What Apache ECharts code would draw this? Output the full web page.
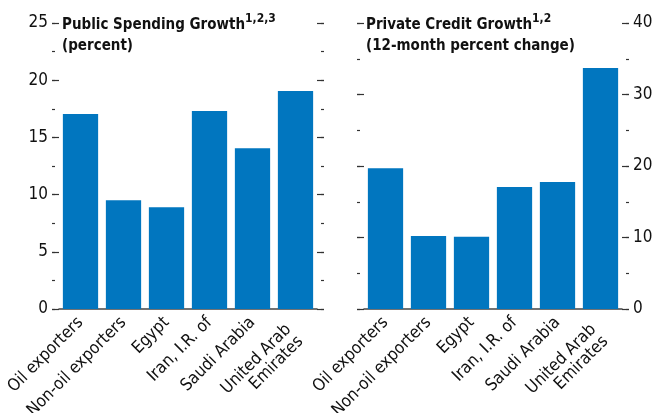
<!DOCTYPE html>
<html>
<head>
<meta charset="utf-8">
<script src="https://cdn.jsdelivr.net/npm/echarts@6/dist/echarts.min.js"></script>
<style>
  html, body { margin: 0; padding: 0; background: #fff; }
  #chart { width: 652px; height: 413px; }
</style>
</head>
<body>
<div id="chart"></div>
<script>
// data
const categories = [
  "Oil exporters",
  "Non-oil exporters",
  "Egypt",
  "Iran, I.R. of",
  "Saudi Arabia",
  "United Arab\nEmirates"
];
const publicSpending = [17.05, 9.5, 8.9, 17.3, 14.05, 19.05];
const privateCredit = [19.7, 10.2, 10.1, 17.05, 17.75, 33.7];
const leftTicks = [0, 5, 10, 15, 20, 25];
const rightTicks = [0, 10, 20, 30, 40];

const FONT = "'DejaVu Sans Condensed', sans-serif";
const barColor = "#0176bf";
const tickColor = "#333";

const chart = echarts.init(document.getElementById("chart"));

// major ticks sit on the grid edge, short minor ticks at the outer end
const yAxisPair = (gridIndex, position, ticks, showLabels) => [
  {
    type: "value",
    gridIndex: gridIndex,
    position: position,
    min: ticks[0],
    max: ticks[ticks.length - 1],
    interval: ticks[1] - ticks[0],
    splitLine: { show: false },
    axisLine: { show: false },
    axisTick: { show: true, inside: false, length: 7, lineStyle: { color: tickColor, width: 1.2 } },
    axisLabel: {
      show: showLabels,
      margin: 11,
      fontFamily: FONT,
      fontSize: 17,
      color: "#111"
    }
  },
  {
    type: "value",
    gridIndex: gridIndex,
    position: position,
    offset: 4,
    min: ticks[0],
    max: ticks[ticks.length - 1],
    interval: (ticks[1] - ticks[0]) / 2,
    splitLine: { show: false },
    axisLine: { show: false },
    axisTick: { show: true, inside: false, length: 3, lineStyle: { color: tickColor, width: 1.2 } },
    axisLabel: { show: false }
  }
];

// two-line label hangs below the spot of a one-line label
const catLabel = (v) => {
  if (v.indexOf("\n") < 0) return v;
  return "\n" + v.split("\n").map((s) => "{m|" + s + "}").join("\n");
};

const xAxisFor = (gridIndex) => ({
  type: "category",
  gridIndex: gridIndex,
  data: categories,
  axisTick: { show: false },
  axisLine: { show: true, lineStyle: { color: "#444", width: 1.5 } },
  axisLabel: {
    interval: 0,
    rotate: 45,
    margin: 11,
    fontFamily: FONT,
    fontSize: 17,
    lineHeight: 17,
    color: "#111",
    formatter: catLabel,
    rich: {
      m: { fontFamily: FONT, fontSize: 17, lineHeight: 17, color: "#111", padding: [0, 10, 0, 0] }
    }
  }
});

const titleRich = {
  t: { fontFamily: FONT, fontWeight: "bold", fontSize: 15, lineHeight: 24, color: "#111" },
  s: { fontFamily: FONT, fontWeight: "bold", fontSize: 12, lineHeight: 12, verticalAlign: "top", color: "#111" },
  u: { fontFamily: FONT, fontWeight: "bold", fontSize: 15, lineHeight: 18, color: "#111" }
};

const option = {
  animation: false,
  backgroundColor: "#fff",
  title: [
    {
      left: 62,
      top: 13,
      padding: 0,
      text: "{t|Public Spending Growth}{s|1,2,3}\n{u|(percent)}",
      textStyle: { rich: titleRich }
    },
    {
      left: 366,
      top: 13,
      padding: 0,
      text: "{t|Private Credit Growth}{s|1,2}\n{u|(12-month percent change)}",
      textStyle: { rich: titleRich }
    }
  ],
  grid: [
    { left: 59, right: 335, top: 23, bottom: 104, outerBoundsMode: "none" },
    { left: 364, right: 30, top: 23, bottom: 104, outerBoundsMode: "none" }
  ],
  xAxis: [xAxisFor(0), xAxisFor(1)],
  yAxis: [
    ...yAxisPair(0, "left", leftTicks, true),
    ...yAxisPair(0, "right", leftTicks, false),
    ...yAxisPair(1, "left", rightTicks, false),
    ...yAxisPair(1, "right", rightTicks, true)
  ],
  series: [
    {
      name: "Public Spending Growth",
      type: "bar",
      xAxisIndex: 0,
      yAxisIndex: 0,
      data: publicSpending,
      barCategoryGap: "18%",
      itemStyle: { color: barColor }
    },
    {
      name: "Private Credit Growth",
      type: "bar",
      xAxisIndex: 1,
      yAxisIndex: 6,
      data: privateCredit,
      barCategoryGap: "18%",
      itemStyle: { color: barColor }
    }
  ]
};

chart.setOption(option);
window.addEventListener("resize", () => chart.resize());
</script>
</body>
</html>
